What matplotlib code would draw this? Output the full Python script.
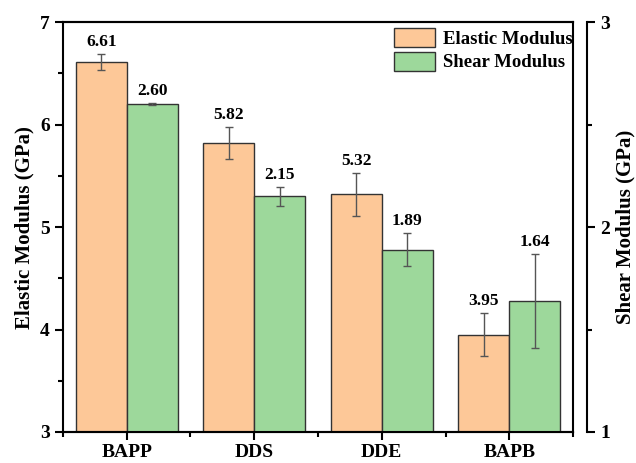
import numpy as np
import matplotlib.pyplot as plt

categories = ['BAPP', 'DDS', 'DDE', 'BAPB']
elastic = [6.61, 5.82, 5.32, 3.95]
elastic_err = [0.08, 0.16, 0.21, 0.21]
shear = [2.60, 2.15, 1.89, 1.64]
shear_err = [0.006, 0.045, 0.08, 0.23]

plt.rcParams['font.family'] = 'Liberation Serif'
plt.rcParams['font.weight'] = 'bold'

fig = plt.figure(figsize=(6.36, 4.63), dpi=100)
ax = fig.add_axes([0.099, 0.067, 0.802, 0.885])
ax2 = ax.twinx()

x = np.arange(len(categories))
w = 0.4
orange = '#FDC898'
green = '#9DD89B'
ekw = dict(ecolor='#555555', elinewidth=1, capsize=3, capthick=1)

b1 = ax.bar(x - w/2, elastic, w, yerr=elastic_err, color=orange, edgecolor='#333333',
            linewidth=1, error_kw=ekw, label='Elastic Modulus', zorder=2)
b2 = ax2.bar(x + w/2, shear, w, yerr=shear_err, color=green, edgecolor='#333333',
             linewidth=1, error_kw=ekw, label='Shear Modulus', zorder=2)

for xi, v, e in zip(x, elastic, elastic_err):
    ax.text(xi - w/2, v + e + 0.04, f'{v:.2f}', ha='center', va='bottom',
            fontsize=12.5, fontweight='bold')
for xi, v, e in zip(x, shear, shear_err):
    ax2.text(xi + w/2, v + e + 0.02, f'{v:.2f}', ha='center', va='bottom',
             fontsize=12.5, fontweight='bold')

ax.set_xlim(-0.5, 3.5)
ax.set_ylim(3, 7)
ax2.set_ylim(1, 3)
ax.set_xticks(x)
ax.set_xticklabels(categories)
ax.set_xticks(np.arange(-0.5, 4, 1), minor=True)
ax.set_yticks([3, 4, 5, 6, 7])
ax.set_yticks(np.arange(3.5, 7, 1), minor=True)
ax2.set_yticks([1, 2, 3])
ax2.set_yticks([1.5, 2.5], minor=True)

for a in (ax, ax2):
    a.tick_params(which='major', direction='out', length=6, width=1.5, labelsize=14)
    a.tick_params(which='minor', direction='out', length=3.5, width=1.5)
    for s in a.spines.values():
        s.set_linewidth(1.5)
ax.tick_params(axis='x', pad=3)
ax2.spines['right'].set_position(('outward', 10))
ax2.spines['left'].set_visible(False)

ax.set_ylabel('Elastic Modulus (GPa)', fontsize=15, fontweight='bold')
ax2.set_ylabel('Shear Modulus (GPa)', fontsize=15, fontweight='bold')

ax.legend([b1, b2], ['Elastic Modulus', 'Shear Modulus'], loc='upper right',
          frameon=False, handlelength=2.2, handleheight=1.2,
          borderaxespad=0.1, borderpad=0.2, labelspacing=0.2, handletextpad=0.4,
          bbox_to_anchor=(1.01, 1.0),
          prop={'weight': 'bold', 'size': 13.5})

fig.savefig('out.png', dpi=100)
